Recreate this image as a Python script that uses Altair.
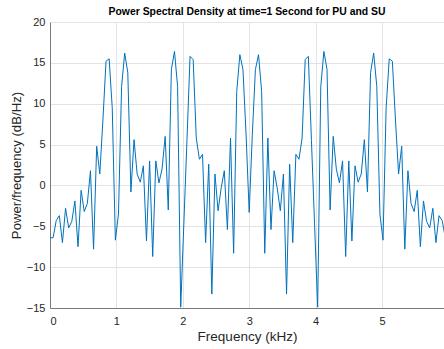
import altair as alt
import pandas as pd

# PSD values (dB/Hz), one per frequency bin
psd_db = [
    -6.4, -6.4, -4.3, -3.7, -7.0, -2.8, -5.2, -4.4, -1.9, -7.5,
    -0.6, -3.2, -2.2, 1.8, -7.8, 4.8, 1.4, 8.0, 15.2, 15.5,
    9.5, -6.7, -3.5, 12.1, 16.2, 13.8, -0.8, 5.6, 1.4, 0.4,
    2.4, -6.8, 3.0, -8.7, 3.0, 0.3, 2.0, 6.0, -3.0, 14.2,
    16.4, 12.1, -14.9, -4.7, 5.5, 15.8, 15.4, 5.8, 3.2, 3.8,
    -7.0, 2.6, -13.3, 1.4, -3.1, -0.3, 1.8, -5.4, 5.8, -8.3,
    11.5, 16.0, 14.2, 6.2, -3.3, 6.2, 14.2, 16.0, 11.5, -8.3,
    5.8, -5.4, 1.8, -0.3, -3.1, 1.4, -13.3, 2.6, -7.0, 3.8,
    3.2, 5.8, 15.4, 15.8, 5.5, -4.7, -14.9, 12.1, 16.4, 14.2,
    -3.0, 6.0, 2.0, 0.3, 3.0, -8.7, 3.0, -6.8, 2.4, 0.4,
    1.4, 5.6, -0.8, 13.8, 16.2, 12.1, -3.5, -6.7, 9.5, 15.5,
    15.2, 8.0, 1.4, 4.8, -7.8, 1.8, -2.2, -3.2, -0.6, -7.5,
    -1.9, -4.4, -5.2, -2.8, -7.0, -3.7, -4.3, -6.4,
]
# frequency bins (kHz): 12 kHz sampling, 256-point FFT
bin_width_khz = 12.0 / 256
freq_khz = [i * bin_width_khz for i in range(len(psd_db))]

x_ticks = [0, 1, 2, 3, 4, 5]
y_ticks = [-15, -10, -5, 0, 5, 10, 15, 20]

df = pd.DataFrame({"freq": freq_khz, "psd": psd_db})

FONT = "Liberation Sans"
TXT = "#262626"

chart = (
    alt.Chart(df)
    .mark_line(color="#0072BD", strokeWidth=1, clip=True)
    .encode(
        x=alt.X(
            "freq:Q",
            scale=alt.Scale(domain=[0, 5.934], nice=False, zero=False),
            axis=alt.Axis(
                values=x_ticks,
                format="d",
                title="Frequency (kHz)",
                titleFontSize=13.5,
                titleFontWeight="normal",
                titleColor=TXT,
                titleFont=FONT,
                titlePadding=3,
                labelFont=FONT,
                labelFontSize=11,
                labelColor=TXT,
                labelPadding=7,
                tickSize=0,
                domainColor="#7a7a7a",
                gridColor="#e3e3e3",
            ),
        ),
        y=alt.Y(
            "psd:Q",
            scale=alt.Scale(domain=[-15, 20], nice=False, zero=False),
            axis=alt.Axis(
                values=y_ticks,
                title="Power/frequency (dB/Hz)",
                titleFontSize=13.2,
                titleFontWeight="normal",
                titleColor=TXT,
                titleFont=FONT,
                titlePadding=3,
                labelFont=FONT,
                labelFontSize=11,
                labelColor=TXT,
                labelPadding=5,
                tickSize=0,
                domainColor="#7a7a7a",
                gridColor="#e3e3e3",
            ),
        ),
    )
    .properties(
        width=394,
        height=286,
        autosize="none",
        padding={"left": 50, "top": 22, "right": 0, "bottom": 41},
        title=alt.TitleParams(
            "Power Spectral Density at time=1 Second for PU and SU",
            font=FONT,
            fontSize=10.4,
            fontWeight="bold",
            color="#000000",
            anchor="middle",
            offset=2,
            dy=3,
        ),
    )
    .configure_view(stroke="#7a7a7a", strokeWidth=1)
    .configure(background="white")
)

chart.save("out.html", embed_options={"renderer": "svg", "actions": False})
